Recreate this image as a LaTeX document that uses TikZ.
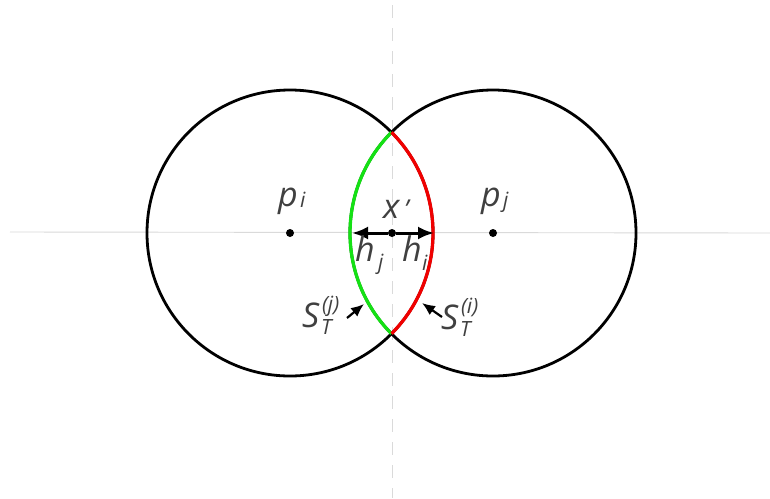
\documentclass[tikz,border=0pt]{standalone}
\usepackage{fontspec}
\setmainfont{Open Sans}
\usetikzlibrary{arrows.meta}
\begin{document}
\begin{tikzpicture}[x=1pt,y=-1pt,
  lbl/.style={inner sep=0pt,outer sep=0pt,anchor=base west,text={rgb,255:red,64;green,64;blue,64},font=\itshape\fontsize{34}{40}\selectfont},
  sml/.style={lbl,font=\itshape\fontsize{21}{25}\selectfont},
  axis/.style={draw={rgb,255:red,218;green,218;blue,218},line width=0.9pt},
  ring/.style={draw=black,line width=2.8pt},
  lens/.style={line width=3.3pt},
  dot/.style={circle,fill=black,inner sep=0pt,minimum size=8pt},
  harrow/.style={draw=black,line width=3pt,-{Latex[length=16pt,width=13pt]}},
  sarrow/.style={draw=black,line width=2.2pt,-{Latex[length=13pt,width=11pt]}}]
\path[use as bounding box] (0,0) rectangle (770,498);
\path[fill=white,draw=none] (0,0) rectangle (770,498);
% axes
\coordinate (axl) at (10,232);
\coordinate (axr) at (770,233);
\coordinate (axt) at (392,5);
\coordinate (axb) at (392,498);
\draw[axis] (axl) -- (axr);
\draw[axis,dash pattern=on 13pt off 10pt] (axt) -- (axb);
% circles
\coordinate (pi) at (290,233);
\coordinate (pj) at (493,233);
\draw[ring] (pi) circle[radius=143];
\draw[ring] (pj) circle[radius=143];
% lens
\coordinate (top) at (391.5,132.27);
\draw[lens,draw={rgb,255:red,20;green,225;blue,20}] (top) arc[start angle=224.78,end angle=135.22,radius=143];
\draw[lens,draw={rgb,255:red,240;green,0;blue,0}] (top) arc[start angle=-44.78,end angle=44.78,radius=143];
% points
\node[dot] (dpi) at (pi) {};
\node[dot] (dpj) at (pj) {};
\node[dot] (dx) at (392,233) {};
\coordinate (hjtip) at (352,233);
\coordinate (hitip) at (434,233);
\draw[harrow] (dx) -- (hjtip);
\draw[harrow] (dx) -- (hitip);
% labels
\node[lbl] (lpi) at (278,206) {p};
\node[sml] (lpisub) at (300,207) {i};
\node[lbl] (lpj) at (481,206) {p};
\node[sml] (lpjsub) at (503,207) {j};
\node[lbl] (lx) at (383,218) {x};
\node[lbl,font=\itshape\fontsize{26}{30}\selectfont] (lxprime) at (404,218) {\symbol{"27}};
\node[lbl] (lhj) at (355,261) {h};
\node[sml] (lhjsub) at (378,269) {j};
\node[lbl] (lhi) at (402,261) {h};
\node[sml] (lhisub) at (422,270) {i};
\node[lbl] (lsj) at (302,327) {S};
\node[sml] (lsjsup) at (322,311) {(j)};
\node[sml] (lsjsub) at (321,334) {T};
\node[lbl] (lsi) at (441,329) {S};
\node[sml] (lsisup) at (461,313) {(i)};
\node[sml] (lsisub) at (460,336) {T};
\coordinate (sjtail) at (347,318);
\coordinate (sjtip) at (364,304);
\coordinate (sitail) at (442,317);
\coordinate (sitip) at (422,303);
\draw[sarrow] (sjtail) -- (sjtip);
\draw[sarrow] (sitail) -- (sitip);
\end{tikzpicture}
\end{document}
